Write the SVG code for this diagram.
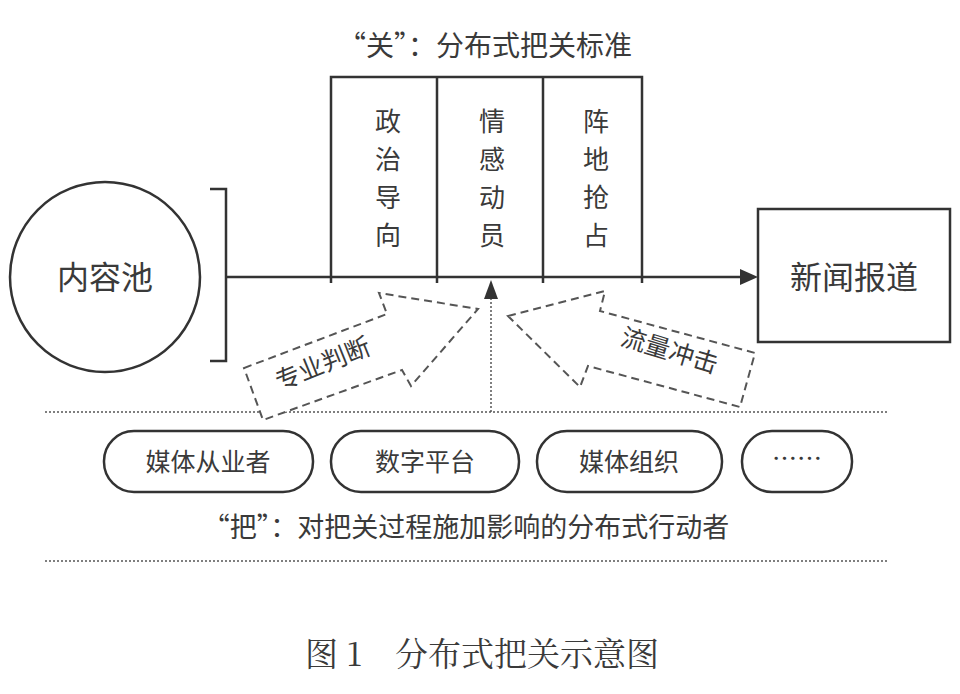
<svg xmlns="http://www.w3.org/2000/svg" width="960" height="694" viewBox="0 0 960 694">
<defs>
<style>
text{font-family:"Noto Sans CJK SC","Liberation Sans",sans-serif;fill:#3a3a3a}
.s{stroke:#333;stroke-width:2.5;fill:none}
.d{stroke:#555;stroke-width:2;stroke-dasharray:8 5;fill:#fff}
.dot{stroke:#555;stroke-width:1.5;stroke-dasharray:2 2;fill:none}
</style>
</defs>
<rect width="960" height="694" fill="#fff"/>
<g id="connectors">
<path d="M226,277H740" class="s" stroke-width="2"/>
<path d="M740,269L758,277L740,285z" fill="#333"/>
<path d="M331,277v6M437,277v6M543,277v6M642,277v6" class="s" stroke-width="2"/>
<line x1="491" y1="412" x2="491" y2="298" class="dot" stroke-width="2.5"/>
<path d="M484,299L491,280L498,299z" fill="#333"/>
<line x1="45" y1="412" x2="887" y2="412" class="dot"/>
<line x1="45" y1="561" x2="887" y2="561" class="dot"/>
</g>
<g id="pool"><circle cx="105" cy="277" r="95" class="s"/><text x="105" y="289" font-size="32" text-anchor="middle">内容池</text>
<path d="M210,189H226V361H210" class="s"/></g>
<g id="gate">
<text x="485" y="56" font-size="28" text-anchor="middle">“关”：分布式把关标准</text>
<path d="M331,277V77H642V277M437,77V277M543,77V277" class="s" stroke-width="2"/>
<g font-size="26" text-anchor="middle">
<text x="388" y="131">政</text><text x="388" y="169">治</text><text x="388" y="207">导</text><text x="388" y="245">向</text>
<text x="492" y="131">情</text><text x="492" y="169">感</text><text x="492" y="207">动</text><text x="492" y="245">员</text>
<text x="596" y="131">阵</text><text x="596" y="169">地</text><text x="596" y="207">抢</text><text x="596" y="245">占</text>
</g></g>
<g id="news"><rect x="758" y="209" width="192" height="133" class="s"/><text x="854" y="289" font-size="32" text-anchor="middle">新闻报道</text></g>
<g id="prof"><polygon points="244,368 387,314 379,293 478,309 411,386 402,370 263,420" class="d"/>
<text font-size="25" text-anchor="middle" transform="translate(326,372) rotate(-22)">专业判断</text></g>
<g id="traffic"><polygon points="508,316 605,291 600,311 755,353 740,407 588,366 580,387" class="d"/>
<text font-size="25" text-anchor="middle" transform="translate(667,359) rotate(17)">流量冲击</text></g>
<g id="actors" font-size="25">
<rect x="104" y="431" width="209" height="61" rx="30" class="s"/><text x="208" y="471" text-anchor="middle">媒体从业者</text>
<rect x="331" y="431" width="188" height="61" rx="30" class="s"/><text x="425" y="471" text-anchor="middle">数字平台</text>
<rect x="537" y="431" width="185" height="61" rx="30" class="s"/><text x="629" y="471" text-anchor="middle">媒体组织</text>
<rect x="742" y="431" width="110" height="61" rx="30" class="s"/><text x="797" y="468" text-anchor="middle">……</text>
</g>
<text x="466" y="537" font-size="27" text-anchor="middle">“把”：对把关过程施加影响的分布式行动者</text>
<text x="482" y="666" font-size="33" text-anchor="middle" style="font-family:'Noto Serif CJK SC','Noto Sans CJK SC',serif">图 1　分布式把关示意图</text>
</svg>
